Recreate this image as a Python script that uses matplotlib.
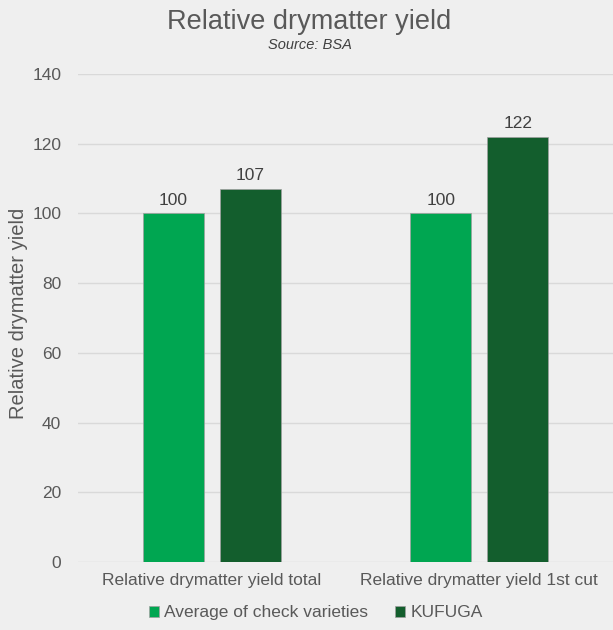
import matplotlib
matplotlib.use("Agg")
import matplotlib.pyplot as plt
import numpy as np

categories = ["Relative drymatter yield total", "Relative drymatter yield 1st cut"]
series_names = ["Average of check varieties", "KUFUGA"]
check_values = [100, 100]
kufuga_values = [107, 122]

plt.rcParams['font.family'] = ['Liberation Sans', 'DejaVu Sans']
text_col = '#595959'
bg = '#efefef'
colors = ['#00a651', '#135e2d']

fig = plt.figure(figsize=(6.13, 6.3), dpi=100, facecolor=bg)
ax = fig.add_axes([0.127, 0.108, 0.873, 0.7745], facecolor=bg)

x = np.arange(len(categories))
w = 0.228
off = 0.144
b1 = ax.bar(x - off, check_values, w, color=colors[0], edgecolor='#a0a0a0', linewidth=0.5, label=series_names[0], zorder=3)
b2 = ax.bar(x + off, kufuga_values, w, color=colors[1], edgecolor='#a0a0a0', linewidth=0.5, label=series_names[1], zorder=3)
for bars in (b1, b2):
    ax.bar_label(bars, padding=4, fontsize=12.5, color='#404040')

ax.set_xlim(-0.5, 1.5)
ax.set_ylim(0, 140)
ax.set_yticks(range(0, 141, 20))
ax.set_xticks(x)
ax.set_xticklabels(categories)
ax.yaxis.grid(True, color='#d9d9d9', linewidth=1, zorder=0)
for s in ax.spines.values():
    s.set_visible(False)
ax.tick_params(length=0, labelsize=12.5, colors=text_col)
ax.tick_params(axis='x', pad=8)
ax.tick_params(axis='y', pad=12)
ax.set_ylabel("Relative drymatter yield", fontsize=14.5, color=text_col, va='center')
ax.yaxis.set_label_coords(-0.11, 0.51)

fig.text(0.505, 0.965, "Relative drymatter yield", ha='center', va='center', fontsize=19.5, color=text_col)
fig.text(0.505, 0.929, "Source: BSA", ha='center', va='center', fontsize=10.5, style='italic', color='#404040')

fig.legend(loc='center', bbox_to_anchor=(0.515, 0.027), ncol=2, frameon=False, fontsize=12.5,
           handlelength=0.6, handleheight=0.6, handletextpad=0.3, columnspacing=1.5, labelcolor=text_col)

fig.savefig("out.png", dpi=100, facecolor=bg)
